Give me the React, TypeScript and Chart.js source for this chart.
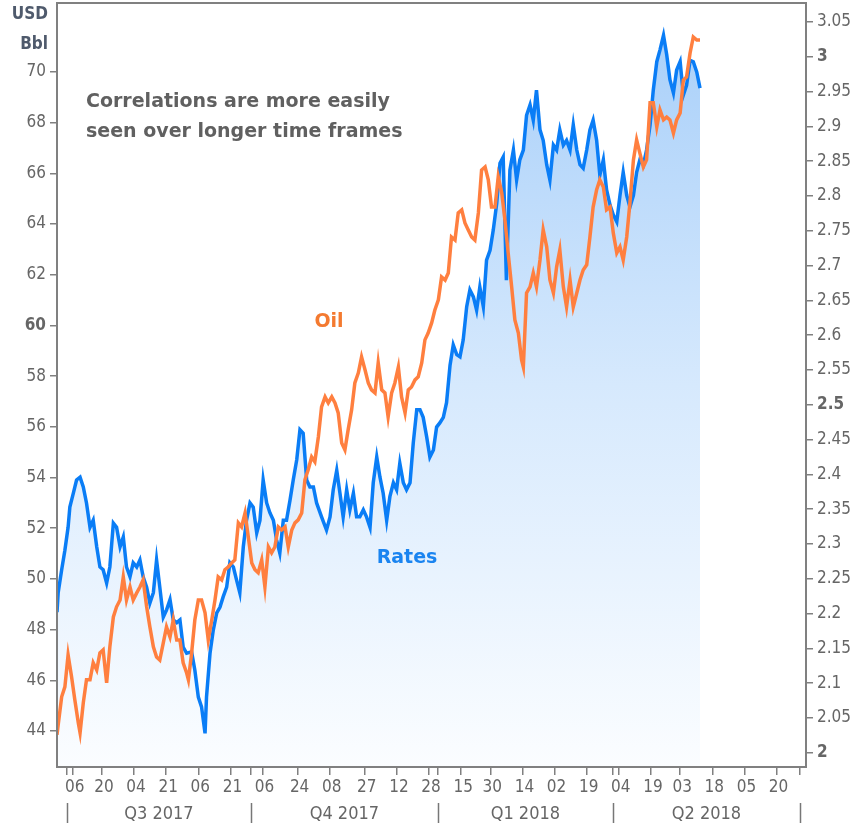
import React, { useEffect, useRef } from 'react';
import { Chart, registerables } from 'chart.js';

Chart.register(...registerables);

const FONT = "'DejaVu Sans Condensed', 'DejaVu Sans', sans-serif";
const FONT_WIDE = "'DejaVu Sans', sans-serif";
const BLUE = '#0a7df6';
const ORANGE = '#ff7f3f';
const TEXT = '#666666';
const AXIS = '#808080';

// x positions are trading-day indices counted from 3 Jul 2017 (= 0)
const rateDays = [-3.4,-3.0,-1.8,-0.7,0.4,1.0,2.2,3.3,4.5,5.6,6.7,7.9,9.0,10.2,11.3,12.4,13.6,14.7,15.9,17.0,18.2,19.3,20.4,21.6,22.7,23.9,25.0,26.1,27.3,28.4,29.6,30.7,31.8,33.0,34.1,35.3,36.4,37.6,38.7,39.8,41.0,42.7,43.8,45.0,46.1,47.3,47.8,49.0,50.1,51.3,52.4,53.5,54.7,55.8,57.0,58.1,59.2,60.4,61.5,62.7,63.8,65.0,66.1,67.2,68.4,69.5,70.7,71.8,72.9,74.1,75.2,76.4,77.5,78.7,79.8,80.9,82.1,83.2,84.4,85.5,87.2,88.9,90.1,91.2,92.4,93.5,94.6,95.8,96.9,98.1,99.2,100.3,101.5,102.6,103.8,104.9,106.1,107.2,108.3,109.5,110.6,111.8,112.9,114.0,115.2,116.3,117.5,118.6,119.8,120.9,122.0,123.2,124.3,125.5,126.6,127.7,128.9,130.0,131.2,132.3,133.5,134.6,135.7,136.9,138.0,139.2,140.3,141.4,142.6,143.7,144.9,146.0,147.2,148.3,149.4,150.5,151.7,152.9,154.0,155.1,156.3,157.4,158.6,159.7,160.8,162.0,163.1,164.3,165.4,166.6,167.7,168.8,170.0,171.1,172.3,173.4,174.6,175.7,176.8,178.0,179.1,180.2,181.4,182.5,183.7,184.8,186.0,187.1,188.3,189.4,190.5,191.7,192.8,194.0,195.1,196.2,197.4,198.5,199.7,200.8,202.0,203.1,204.3,205.4,206.5,207.7,208.8,210.0,211.1,212.2,213.4,214.5,215.7,216.8];

const rateValues = [2.202,2.230,2.263,2.291,2.324,2.353,2.373,2.392,2.396,2.382,2.359,2.324,2.334,2.296,2.267,2.263,2.244,2.267,2.330,2.324,2.296,2.310,2.267,2.253,2.273,2.267,2.277,2.253,2.238,2.215,2.230,2.277,2.238,2.195,2.205,2.220,2.191,2.187,2.191,2.152,2.143,2.145,2.119,2.080,2.066,2.028,2.080,2.143,2.176,2.201,2.209,2.224,2.238,2.273,2.267,2.248,2.230,2.296,2.334,2.359,2.353,2.316,2.334,2.392,2.359,2.345,2.334,2.306,2.287,2.334,2.334,2.363,2.392,2.421,2.464,2.459,2.392,2.382,2.382,2.359,2.339,2.320,2.339,2.378,2.406,2.373,2.339,2.378,2.349,2.373,2.339,2.339,2.349,2.339,2.324,2.388,2.425,2.396,2.373,2.334,2.368,2.388,2.378,2.416,2.388,2.378,2.388,2.445,2.493,2.493,2.482,2.454,2.425,2.435,2.468,2.474,2.482,2.503,2.557,2.586,2.572,2.569,2.593,2.641,2.665,2.655,2.636,2.669,2.641,2.708,2.722,2.751,2.790,2.847,2.856,2.679,2.837,2.866,2.823,2.852,2.866,2.916,2.931,2.909,2.952,2.895,2.880,2.845,2.823,2.873,2.866,2.895,2.873,2.880,2.866,2.902,2.866,2.845,2.840,2.866,2.895,2.909,2.880,2.830,2.852,2.809,2.787,2.773,2.763,2.801,2.834,2.801,2.784,2.801,2.834,2.852,2.845,2.866,2.902,2.952,2.993,3.010,3.031,3.003,2.967,2.948,2.981,2.993,2.945,2.959,2.995,2.993,2.978,2.955];

const oilDays = [-3.4,-3.0,-1.8,-0.7,0.4,1.6,2.7,3.9,4.5,5.6,6.7,7.9,9.0,10.2,11.3,12.4,13.6,14.7,15.9,17.0,18.2,19.3,20.4,21.6,22.7,23.9,25.0,26.1,27.3,28.4,29.6,30.7,31.8,33.0,34.1,35.3,36.4,37.6,38.7,39.8,41.0,41.6,42.7,43.8,45.0,46.1,47.3,48.4,49.6,50.7,51.8,53.0,54.1,55.2,56.4,57.5,58.7,59.8,61.0,62.1,63.3,64.4,65.5,66.7,67.8,69.0,70.1,71.2,72.4,73.5,74.7,75.8,77.0,78.1,79.2,80.4,81.5,82.6,83.8,84.9,86.1,87.2,88.4,89.5,90.7,91.8,92.9,94.1,95.2,96.3,97.5,98.6,99.8,100.9,102.1,103.2,104.3,105.5,106.6,107.8,108.9,110.0,111.2,112.3,113.5,114.6,115.8,116.9,118.0,119.2,120.3,121.5,122.6,123.7,124.9,126.0,127.2,128.3,129.5,130.6,131.7,132.9,134.0,135.2,136.3,137.4,138.6,139.7,140.9,142.0,143.2,144.3,145.4,146.6,147.7,148.9,150.0,151.1,152.3,153.4,154.6,155.7,156.3,157.4,158.6,159.7,160.8,162.0,163.1,164.3,165.4,166.6,167.7,168.8,170.0,171.1,172.3,173.4,174.6,175.7,176.8,178.0,179.1,180.2,181.4,182.5,183.7,184.8,186.0,187.1,188.3,189.4,190.5,191.7,192.8,194.0,195.1,196.2,197.4,198.5,199.7,200.8,202.0,203.1,204.3,205.4,206.5,207.7,208.8,210.0,211.1,212.2,213.4,214.5,215.7,216.8];

const oilValues = [43.85,44.24,45.35,45.74,47.00,46.13,45.23,44.32,43.93,45.11,46.02,46.02,46.69,46.41,47.08,47.20,45.90,47.32,48.50,48.90,49.17,50.08,49.17,49.68,49.17,49.45,49.68,49.96,48.90,48.11,47.32,46.92,46.80,47.48,48.11,47.71,48.38,47.59,47.59,46.69,46.29,46.02,47.08,48.38,49.17,49.17,48.66,47.59,48.38,49.17,50.08,49.96,50.36,50.47,50.63,50.75,52.21,52.05,52.60,51.66,50.63,50.36,50.24,50.75,49.68,51.26,51.03,51.26,52.05,51.93,52.05,51.26,51.93,52.21,52.33,52.60,53.91,54.30,54.81,54.62,55.60,56.79,57.18,56.94,57.18,56.94,56.55,55.36,55.09,55.88,56.67,57.73,58.13,58.76,58.24,57.73,57.46,57.34,58.52,57.46,57.34,56.39,57.34,57.73,58.36,57.18,56.55,57.46,57.57,57.85,57.97,58.52,59.43,59.70,60.10,60.61,61.01,61.91,61.79,62.07,63.49,63.37,64.44,64.56,64.04,63.77,63.49,63.37,64.44,66.13,66.25,65.74,64.67,64.67,65.86,65.23,64.16,62.86,61.52,60.22,59.70,58.64,58.36,61.28,61.52,62.07,61.52,62.58,63.77,63.10,61.79,61.28,62.31,62.98,61.52,60.73,61.79,60.73,61.28,61.79,62.19,62.39,63.49,64.67,65.35,65.74,65.46,64.56,64.67,63.65,62.86,63.10,62.58,63.49,64.83,66.53,67.32,66.80,66.25,66.53,68.78,68.78,67.83,68.50,68.11,68.22,68.11,67.59,68.11,68.38,69.68,69.80,70.75,71.38,71.26,71.26];

const oilTicks = [44, 46, 48, 50, 52, 54, 56, 58, 60, 62, 64, 66, 68, 70];
const oilBoldTicks = [60];
const rateTicks = [2, 2.05, 2.1, 2.15, 2.2, 2.25, 2.3, 2.35, 2.4, 2.45, 2.5, 2.55, 2.6, 2.65, 2.7, 2.75, 2.8, 2.85, 2.9, 2.95, 3, 3.05];
const rateBoldTicks = [2, 2.5, 3];

const xTickDays = [2, 12, 23, 34, 45, 56, 67, 79, 90, 102, 113, 124, 135, 145, 156, 167, 178, 189, 200, 210, 221, 232, 243];
const xTickLabels = ['06', '20', '04', '21', '06', '21', '06', '24', '08', '27', '12', '28', '15', '30', '14', '02', '19', '04', '19', '03', '18', '05', '20'];
const quarterBounds = [0, 63, 127, 187, 251];
const quarterLabels = ['Q3 2017', 'Q4 2017', 'Q1 2018', 'Q2 2018'];

const X_MIN = -3.4;
const X_MAX = 253.1;
const OIL_MIN = 42.58;
const OIL_MAX = 72.72;
const RATE_MIN = 1.9796;
const RATE_MAX = 3.0773;

const decorPlugin = {
  id: 'decor',
  afterDraw(chart: any) {
    const { ctx, chartArea } = chart;
    const xs = chart.scales.x;
    ctx.save();
    // frame
    ctx.strokeStyle = AXIS;
    ctx.lineWidth = 2;
    ctx.strokeRect(chartArea.left, chartArea.top, chartArea.right - chartArea.left, chartArea.bottom - chartArea.top);

    // quarter row
    ctx.font = `18px ${FONT}`;
    ctx.fillStyle = TEXT;
    ctx.textAlign = 'center';
    ctx.textBaseline = 'middle';
    for (let i = 0; i < quarterLabels.length; i++) {
      const a = xs.getPixelForValue(quarterBounds[i]);
      const b = xs.getPixelForValue(quarterBounds[i + 1]);
      ctx.fillText(quarterLabels[i], (a + b) / 2, chartArea.bottom + 47);
    }
    ctx.strokeStyle = '#777777';
    ctx.lineWidth = 1.5;
    for (const q of quarterBounds) {
      const px = Math.round(xs.getPixelForValue(q)) + 0.5;
      ctx.beginPath();
      ctx.moveTo(px, chartArea.bottom + 36);
      ctx.lineTo(px, chartArea.bottom + 56);
      ctx.stroke();
    }

    // unit labels
    ctx.font = `bold 17px ${FONT}`;
    ctx.fillStyle = '#4f5a6c';
    ctx.textAlign = 'right';
    ctx.fillText('USD', chartArea.left - 9, 15);
    ctx.fillText('Bbl', chartArea.left - 9, 45);

    // annotation
    ctx.font = `bold 19px ${FONT_WIDE}`;
    ctx.fillStyle = '#606060';
    ctx.textAlign = 'left';
    ctx.fillText('Correlations are more easily', chartArea.left + 29, 102);
    ctx.fillText('seen over longer time frames', chartArea.left + 29, 132);

    // series labels
    ctx.textAlign = 'center';
    ctx.fillStyle = '#f47a30';
    ctx.fillText('Oil', 329, 322);
    ctx.fillStyle = '#1a84f0';
    ctx.fillText('Rates', 407, 558);
    ctx.restore();
  },
};

export default function App() {
  const ref = useRef<HTMLCanvasElement>(null);

  useEffect(() => {
    const canvas = ref.current;
    if (!canvas) return;
    const chart = new Chart(canvas, {
      type: 'line',
      data: {
        datasets: [
          {
            label: 'Oil',
            data: oilDays.map((d, i) => ({ x: d, y: oilValues[i] })),
            yAxisID: 'y',
            borderColor: ORANGE,
            borderWidth: 3.5,
            pointRadius: 0,
            tension: 0,
            fill: false,
          },
          {
            label: 'Rates',
            data: rateDays.map((d, i) => ({ x: d, y: rateValues[i] })),
            yAxisID: 'y1',
            borderColor: BLUE,
            borderWidth: 3.5,
            pointRadius: 0,
            tension: 0,
            fill: 'start',
            backgroundColor: (c: any) => {
              const area = c.chart.chartArea;
              if (!area) return 'rgba(200,225,250,0.6)';
              const g = c.chart.ctx.createLinearGradient(0, area.top, 0, area.bottom);
              g.addColorStop(0, '#a6cef9');
              g.addColorStop(0.5, '#d6e9fd');
              g.addColorStop(1, '#fbfdff');
              return g;
            },
          },
        ],
      },
      options: {
        responsive: false,
        animation: false,
        layout: { padding: { top: 3, left: 0, right: 0, bottom: 0 } },
        plugins: {
          legend: { display: false },
          tooltip: { enabled: false },
          title: { display: false },
        },
        scales: {
          x: {
            type: 'linear',
            min: X_MIN,
            max: X_MAX,
            afterBuildTicks: (s: any) => {
              s.ticks = [...quarterBounds, ...xTickDays].sort((a, b) => a - b).map((v) => ({ value: v }));
            },
            ticks: {
              autoSkip: false,
              maxRotation: 0,
              minRotation: 0,
              padding: 2,
              labelOffset: 2,
              color: TEXT,
              font: { family: FONT, size: 17 },
              callback: (v: any) => {
                const i = xTickDays.indexOf(Number(v));
                return i >= 0 ? xTickLabels[i] : '';
              },
            },
            grid: { drawOnChartArea: false, drawTicks: true, tickLength: 8, color: AXIS, lineWidth: 1.5 },
            border: { display: false },
            afterFit: (s: any) => {
              s.height = 60;
              s.paddingLeft = 0;
              s.paddingRight = 0;
            },
          },
          y: {
            type: 'linear',
            position: 'left',
            min: OIL_MIN,
            max: OIL_MAX,
            afterBuildTicks: (s: any) => {
              s.ticks = oilTicks.map((v) => ({ value: v }));
            },
            ticks: {
              padding: 4,
              color: TEXT,
              font: (c: any) => ({
                family: FONT,
                size: 17,
                weight: c.tick && oilBoldTicks.includes(c.tick.value) ? 'bold' : 'normal',
              }),
              callback: (v: any) => String(v),
            },
            grid: { drawOnChartArea: false, drawTicks: true, tickLength: 7, color: AXIS, lineWidth: 1.5 },
            border: { display: false },
            afterFit: (s: any) => {
              s.width = 57;
              s.paddingTop = 0;
              s.paddingBottom = 0;
            },
          },
          y1: {
            type: 'linear',
            position: 'right',
            min: RATE_MIN,
            max: RATE_MAX,
            afterBuildTicks: (s: any) => {
              s.ticks = rateTicks.map((v) => ({ value: v }));
            },
            ticks: {
              padding: 4,
              color: TEXT,
              font: (c: any) => ({
                family: FONT,
                size: 17,
                weight: c.tick && rateBoldTicks.includes(c.tick.value) ? 'bold' : 'normal',
              }),
              callback: (v: any) => String(Number(Number(v).toFixed(2))),
            },
            grid: { drawOnChartArea: false, drawTicks: true, tickLength: 7, color: AXIS, lineWidth: 1.5 },
            border: { display: false },
            afterFit: (s: any) => {
              s.width = 55;
              s.paddingTop = 0;
              s.paddingBottom = 0;
            },
          },
        },
      },
      plugins: [decorPlugin],
    });
    return () => chart.destroy();
  }, []);

  return (
    <div style={{ position: 'absolute', left: 0, top: 0, width: 861, height: 827, background: '#ffffff' }}>
      <canvas ref={ref} width={861} height={827} style={{ display: 'block' }} />
    </div>
  );
}
